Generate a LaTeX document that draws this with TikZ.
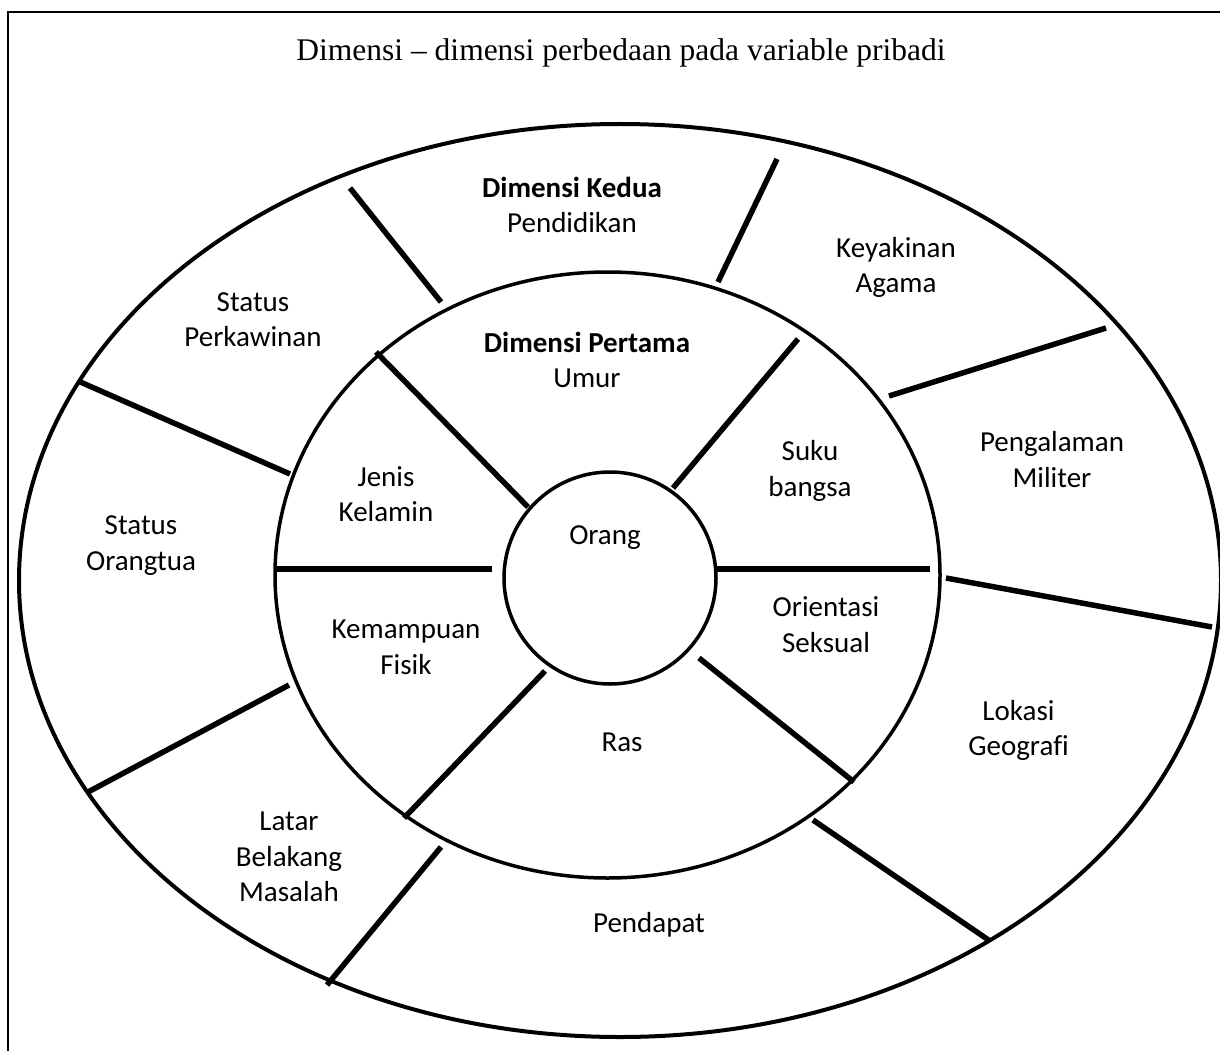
\documentclass[tikz,border=0pt]{standalone}
\usepackage{fontspec}
\setmainfont{Carlito}[Ligatures=CommonOff]
\newfontfamily\titlefont{Liberation Serif}
\begin{document}
\begin{tikzpicture}[x=1pt,y=-1pt,
  outerring/.style={line width=4pt},
  innerring/.style={line width=3.5pt},
  sepline/.style={line width=5.5pt},
  lbl/.style={align=center, font=\fontsize{29}{35.5}\selectfont, inner sep=0pt},
]
\useasboundingbox (0,0) rectangle (1220,1051);
\clip (0,0) rectangle (1220,1051);
\fill[white] (0,0) rectangle (1220,1051);
\draw[line width=1.5pt] (8,12) rectangle (1250,1080);

% title
\node[inner sep=0pt, font=\titlefont\fontsize{31.5}{36}\selectfont] (title) at (621,53) {Dimensi – dimensi perbedaan pada variable pribadi};

% rings
\draw[outerring] (620,580.5) ellipse [x radius=601, y radius=456.5];
\draw[innerring] (607.5,575) ellipse [x radius=332.5, y radius=303];
\draw[innerring] (610,578) circle [radius=106];

% separator end points
\coordinate (a1) at (376,352);  \coordinate (b1) at (528,507);
\coordinate (a2) at (798,339);  \coordinate (b2) at (673,488);
\coordinate (a3) at (275,569);  \coordinate (b3) at (492,569);
\coordinate (a4) at (717,569);  \coordinate (b4) at (930,569);
\coordinate (a5) at (545,671);  \coordinate (b5) at (404,818);
\coordinate (a6) at (699,658);  \coordinate (b6) at (854,782);
\coordinate (c1) at (350,188);  \coordinate (d1) at (441,302);
\coordinate (c2) at (777,159);  \coordinate (d2) at (718,282);
\coordinate (c3) at (1106,328); \coordinate (d3) at (889,396);
\coordinate (c4) at (946,578);  \coordinate (d4) at (1212,627);
\coordinate (c5) at (813,820);  \coordinate (d5) at (990,941);
\coordinate (c6) at (441,847);  \coordinate (d6) at (327,985);
\coordinate (c7) at (289,685);  \coordinate (d7) at (88,792);
\coordinate (c8) at (78,381);   \coordinate (d8) at (290,474);

\foreach \i in {1,...,6} { \draw[sepline] (a\i) -- (b\i); }
\foreach \i in {1,...,8} { \draw[sepline] (c\i) -- (d\i); }

% labels
\node[lbl] (kedua) at (572,205) {\textbf{Dimensi Kedua}\\Pendidikan};
\node[lbl] (keyakinan) at (896,267.5) {Keyakinan\\Agama};
\node[lbl] (perkawinan) at (253,319.5) {Status\\Perkawinan};
\node[lbl] (pertama) at (587,360) {\textbf{Dimensi Pertama}\\Umur};
\node[lbl] (militer) at (1052,459.5) {Pengalaman\\Militer};
\node[lbl] (jenis) at (386,494) {Jenis\\Kelamin};
\node[lbl] (suku) at (810,471) {Suku\\bangsa};
\node[lbl] (orangtua) at (141,545.5) {Status\\Orangtua};
\node[lbl] (orang) at (605,538) {Orang};
\node[lbl] (orientasi) at (826,624.5) {Orientasi\\Seksual};
\node[lbl] (kemampuan) at (406,647.5) {Kemampuan\\Fisik};
\node[lbl] (ras) at (622,742) {Ras};
\node[lbl] (latar) at (289,857) {Latar\\Belakang\\Masalah};
\node[lbl] (pendapat) at (649,925) {Pendapat};
\node[lbl] (lokasi) at (1018.5,730.5) {Lokasi\\Geografi};
\end{tikzpicture}
\end{document}
